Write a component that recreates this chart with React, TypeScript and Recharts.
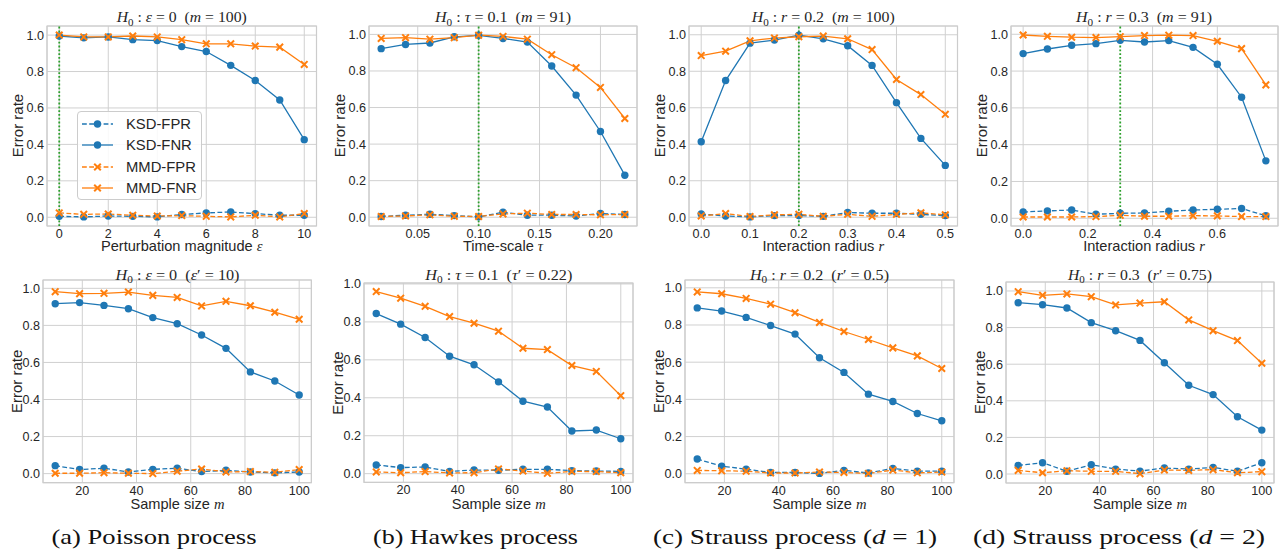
import React from 'react';
import { LineChart, Line, XAxis, YAxis, CartesianGrid, ReferenceLine, ReferenceArea, Legend } from 'recharts';

const BLUE = '#1f77b4';
const ORANGE = '#ff7f0e';
const GREEN = '#2ca02c';
const SANS = "'Liberation Sans', Arial, Helvetica, sans-serif";
const SERIF = "'Liberation Serif', 'Times New Roman', serif";
const TEXT = '#262626';

// ---------- x values ----------
const epsValues = [0, 1, 2, 3, 4, 5, 6, 7, 8, 9, 10];
const tauValues = [0.02, 0.04, 0.06, 0.08, 0.1, 0.12, 0.14, 0.16, 0.18, 0.2, 0.22];
const r1Values = [0, 0.05, 0.1, 0.15, 0.2, 0.25, 0.3, 0.35, 0.4, 0.45, 0.5];
const r2Values = [0, 0.075, 0.15, 0.225, 0.3, 0.375, 0.45, 0.525, 0.6, 0.675, 0.75];
const mValues = [10, 19, 28, 37, 46, 55, 64, 73, 82, 91, 100];

// ---------- tick labels ----------
const errTicks = [0, 0.2, 0.4, 0.6, 0.8, 1.0];
const epsTicks = [0, 2, 4, 6, 8, 10];
const tauTicks = [0.05, 0.1, 0.15, 0.2];
const r1Ticks = [0, 0.1, 0.2, 0.3, 0.4, 0.5];
const r2Ticks = [0, 0.2, 0.4, 0.6];
const mTicks = [20, 40, 60, 80, 100];

// ---------- (a) Poisson, varying epsilon ----------
const poissonEpsKsdFpr = [0.005, 0.002, 0.007, 0.005, 0.002, 0.015, 0.024, 0.029, 0.02, 0.011, 0.011];
const poissonEpsKsdFnr = [0.995, 0.985, 0.99, 0.975, 0.97, 0.937, 0.91, 0.834, 0.751, 0.644, 0.426];
const poissonEpsMmdFpr = [0.024, 0.016, 0.018, 0.011, 0.007, 0.009, 0.005, 0.002, 0.011, 0.002, 0.02];
const poissonEpsMmdFnr = [1.0, 0.99, 0.99, 0.995, 0.99, 0.975, 0.952, 0.952, 0.94, 0.934, 0.839];

// ---------- (b) Hawkes, varying tau ----------
const hawkesTauKsdFpr = [0.004, 0.011, 0.016, 0.009, 0.002, 0.027, 0.011, 0.011, 0.007, 0.02, 0.015];
const hawkesTauKsdFnr = [0.922, 0.945, 0.953, 0.987, 0.995, 0.978, 0.958, 0.827, 0.668, 0.469, 0.23];
const hawkesTauMmdFpr = [0.004, 0.007, 0.013, 0.005, 0.004, 0.018, 0.022, 0.015, 0.015, 0.013, 0.015];
const hawkesTauMmdFnr = [0.978, 0.982, 0.974, 0.982, 0.996, 0.989, 0.974, 0.889, 0.818, 0.71, 0.54];

// ---------- (c) Strauss d=1, varying r ----------
const strauss1RKsdFpr = [0.018, 0.007, 0.002, 0.009, 0.009, 0.005, 0.026, 0.022, 0.022, 0.016, 0.009];
const strauss1RKsdFnr = [0.414, 0.749, 0.954, 0.971, 0.998, 0.978, 0.94, 0.832, 0.628, 0.432, 0.284];
const strauss1RMmdFpr = [0.007, 0.02, 0.004, 0.013, 0.016, 0.005, 0.016, 0.005, 0.016, 0.024, 0.013];
const strauss1RMmdFnr = [0.886, 0.91, 0.967, 0.982, 0.989, 0.993, 0.978, 0.919, 0.755, 0.672, 0.564];

// ---------- (d) Strauss d=2, varying r ----------
const strauss2RKsdFpr = [0.034, 0.04, 0.045, 0.022, 0.027, 0.029, 0.038, 0.045, 0.049, 0.053, 0.014];
const strauss2RKsdFnr = [0.895, 0.92, 0.94, 0.949, 0.967, 0.958, 0.966, 0.929, 0.837, 0.658, 0.312];
const strauss2RMmdFpr = [0.007, 0.007, 0.007, 0.009, 0.016, 0.011, 0.011, 0.014, 0.013, 0.009, 0.009];
const strauss2RMmdFnr = [0.996, 0.989, 0.984, 0.982, 0.987, 0.993, 0.995, 0.993, 0.962, 0.922, 0.725];

// ---------- sample size panels ----------
const poissonMKsdFpr = [0.043, 0.022, 0.029, 0.009, 0.023, 0.029, 0.011, 0.018, 0.009, 0.004, 0.009];
const poissonMKsdFnr = [0.917, 0.923, 0.908, 0.89, 0.842, 0.809, 0.748, 0.676, 0.549, 0.5, 0.424];
const poissonMMmdFpr = [0.002, 0.002, 0.005, 0.002, 0.0, 0.013, 0.025, 0.009, 0.011, 0.007, 0.022];
const poissonMMmdFnr = [0.982, 0.971, 0.973, 0.98, 0.962, 0.951, 0.905, 0.93, 0.906, 0.871, 0.833];

const hawkesMKsdFpr = [0.046, 0.032, 0.035, 0.012, 0.019, 0.018, 0.023, 0.023, 0.016, 0.014, 0.012];
const hawkesMKsdFnr = [0.844, 0.788, 0.718, 0.619, 0.574, 0.484, 0.382, 0.351, 0.225, 0.23, 0.184];
const hawkesMMmdFpr = [0.009, 0.005, 0.011, 0.004, 0.005, 0.025, 0.014, 0.002, 0.012, 0.011, 0.005];
const hawkesMMmdFnr = [0.96, 0.925, 0.882, 0.828, 0.793, 0.751, 0.661, 0.654, 0.57, 0.539, 0.411];

const strauss1MKsdFpr = [0.079, 0.041, 0.025, 0.007, 0.007, 0.002, 0.018, 0.004, 0.029, 0.014, 0.014];
const strauss1MKsdFnr = [0.892, 0.875, 0.841, 0.797, 0.751, 0.624, 0.545, 0.428, 0.389, 0.324, 0.285];
const strauss1MMmdFpr = [0.018, 0.016, 0.014, 0.004, 0.004, 0.009, 0.007, 0.002, 0.02, 0.005, 0.009];
const strauss1MMmdFnr = [0.978, 0.968, 0.943, 0.912, 0.866, 0.814, 0.765, 0.722, 0.677, 0.634, 0.566];

const strauss2MKsdFpr = [0.047, 0.062, 0.015, 0.051, 0.027, 0.016, 0.033, 0.027, 0.036, 0.015, 0.062];
const strauss2MKsdFnr = [0.936, 0.925, 0.907, 0.827, 0.783, 0.73, 0.608, 0.485, 0.434, 0.313, 0.24];
const strauss2MMmdFpr = [0.02, 0.007, 0.018, 0.015, 0.015, 0.002, 0.022, 0.02, 0.024, 0.007, 0.013];
const strauss2MMmdFnr = [0.996, 0.976, 0.984, 0.969, 0.924, 0.934, 0.941, 0.842, 0.783, 0.729, 0.605];

const SERIES = [
  { key: 'ksdFpr', name: 'KSD-FPR', color: BLUE, dashed: true, marker: 'o' },
  { key: 'ksdFnr', name: 'KSD-FNR', color: BLUE, dashed: false, marker: 'o' },
  { key: 'mmdFpr', name: 'MMD-FPR', color: ORANGE, dashed: true, marker: 'x' },
  { key: 'mmdFnr', name: 'MMD-FNR', color: ORANGE, dashed: false, marker: 'x' },
];

function rows(xs: number[], a: number[], b: number[], c: number[], d: number[]) {
  return xs.map((x, i) => ({ x, ksdFpr: a[i], ksdFnr: b[i], mmdFpr: c[i], mmdFnr: d[i] }));
}

type Seg = [string, string?];

const PANELS: any[] = [
  {
    box: { left: 47, right: 316.5, top: 25.5, bottom: 225.5 }, xd: [-0.5, 10.5], yd: [-0.048, 1.05],
    ticks: epsTicks, fmt: (v: number) => String(v), h0: 0, legend: true,
    data: rows(epsValues, poissonEpsKsdFpr, poissonEpsKsdFnr, poissonEpsMmdFpr, poissonEpsMmdFnr),
    title: [['H', 'i'], ['0', 's'], [' : '], ['ε', 'i'], [' = 0  ('], ['m', 'i'], [' = 100)']] as Seg[], titleW: 130,
    xlabel: [['Perturbation magnitude '], ['ε', 'i']] as Seg[],
  },
  {
    box: { left: 369, right: 637, top: 25.5, bottom: 225.5 }, xd: [0.01, 0.23], yd: [-0.048, 1.046],
    ticks: tauTicks, fmt: (v: number) => v.toFixed(2), h0: 0.1,
    data: rows(tauValues, hawkesTauKsdFpr, hawkesTauKsdFnr, hawkesTauMmdFpr, hawkesTauMmdFnr),
    title: [['H', 'i'], ['0', 's'], [' : '], ['τ', 'i'], [' = 0.1  ('], ['m', 'i'], [' = 91)']] as Seg[], titleW: 136,
    xlabel: [['Time-scale '], ['τ', 'i']] as Seg[],
  },
  {
    box: { left: 689, right: 957.5, top: 25.5, bottom: 225.5 }, xd: [-0.025, 0.525], yd: [-0.048, 1.048],
    ticks: r1Ticks, fmt: (v: number) => v.toFixed(1), h0: 0.2,
    data: rows(r1Values, strauss1RKsdFpr, strauss1RKsdFnr, strauss1RMmdFpr, strauss1RMmdFnr),
    title: [['H', 'i'], ['0', 's'], [' : '], ['r', 'i'], [' = 0.2  ('], ['m', 'i'], [' = 100)']] as Seg[], titleW: 143,
    xlabel: [['Interaction radius '], ['r', 'i']] as Seg[],
  },
  {
    box: { left: 1010.5, right: 1277.5, top: 25.5, bottom: 225.5 }, xd: [-0.0375, 0.7875], yd: [-0.042, 1.045],
    ticks: r2Ticks, fmt: (v: number) => v.toFixed(1), h0: 0.3,
    data: rows(r2Values, strauss2RKsdFpr, strauss2RKsdFnr, strauss2RMmdFpr, strauss2RMmdFnr),
    title: [['H', 'i'], ['0', 's'], [' : '], ['r', 'i'], [' = 0.3  ('], ['m', 'i'], [' = 91)']] as Seg[], titleW: 136,
    xlabel: [['Interaction radius '], ['r', 'i']] as Seg[],
  },
  {
    box: { left: 43.3, right: 311.7, top: 280, bottom: 482.7 }, xd: [5.5, 104.5], yd: [-0.049, 1.045],
    ticks: mTicks, fmt: (v: number) => String(v),
    data: rows(mValues, poissonMKsdFpr, poissonMKsdFnr, poissonMMmdFpr, poissonMMmdFnr),
    title: [['H', 'i'], ['0', 's'], [' : '], ['ε', 'i'], [' = 0  ('], ['ε', 'i'], ['′ = 10)']] as Seg[], titleW: 124,
    xlabel: [['Sample size '], ['m', 'i']] as Seg[],
    caption: [['(a) Poisson process']] as Seg[], capX: 154, capW: 205,
  },
  {
    box: { left: 364.3, right: 633.3, top: 283.3, bottom: 482.7 }, xd: [5.5, 104.5], yd: [-0.046, 1.005],
    ticks: mTicks, fmt: (v: number) => String(v),
    data: rows(mValues, hawkesMKsdFpr, hawkesMKsdFnr, hawkesMMmdFpr, hawkesMMmdFnr),
    title: [['H', 'i'], ['0', 's'], [' : '], ['τ', 'i'], [' = 0.1  ('], ['τ', 'i'], ['′ = 0.22)']] as Seg[], titleW: 147,
    xlabel: [['Sample size '], ['m', 'i']] as Seg[],
    caption: [['(b) Hawkes process']] as Seg[], capX: 475.5, capW: 205,
  },
  {
    box: { left: 685, right: 954, top: 280, bottom: 482.7 }, xd: [5.5, 104.5], yd: [-0.048, 1.042],
    ticks: mTicks, fmt: (v: number) => String(v),
    data: rows(mValues, strauss1MKsdFpr, strauss1MKsdFnr, strauss1MMmdFpr, strauss1MMmdFnr),
    title: [['H', 'i'], ['0', 's'], [' : '], ['r', 'i'], [' = 0.2  ('], ['r', 'i'], ['′ = 0.5)']] as Seg[], titleW: 139,
    xlabel: [['Sample size '], ['m', 'i']] as Seg[],
    caption: [['(c) Strauss process ('], ['d', 'i'], [' = 1)']] as Seg[], capX: 795, capW: 284,
  },
  {
    box: { left: 1006, right: 1274, top: 281.7, bottom: 482.7 }, xd: [5.5, 104.5], yd: [-0.049, 1.049],
    ticks: mTicks, fmt: (v: number) => String(v),
    data: rows(mValues, strauss2MKsdFpr, strauss2MKsdFnr, strauss2MMmdFpr, strauss2MMmdFnr),
    title: [['H', 'i'], ['0', 's'], [' : '], ['r', 'i'], [' = 0.3  ('], ['r', 'i'], ['′ = 0.75)']] as Seg[], titleW: 144,
    xlabel: [['Sample size '], ['m', 'i']] as Seg[],
    caption: [['(d) Strauss process ('], ['d', 'i'], [' = 2)']] as Seg[], capX: 1119, capW: 292,
  },
];

function makeDot(color: string, marker: string) {
  return (props: any) => {
    const { cx, cy, index } = props;
    if (cx == null || cy == null) return <g key={`n${index}`} />;
    if (marker === 'o') {
      return <circle key={`c${index}`} cx={cx} cy={cy} r={3.7} fill={color} stroke="none" />;
    }
    const s = 3.3;
    return (
      <path
        key={`x${index}`}
        d={`M${cx - s},${cy - s}L${cx + s},${cy + s}M${cx - s},${cy + s}L${cx + s},${cy - s}`}
        stroke={color}
        strokeWidth={2}
        fill="none"
      />
    );
  };
}

function renderSegs(segs: Seg[], size: number) {
  let shift = 0;
  return segs.map(([t, st], k) => {
    const p: any = {};
    if (st === 's') {
      p.dy = size * 0.22;
      p.fontSize = size * 0.7;
      p.fontStyle = 'normal';
      shift = size * 0.22;
    } else if (shift) {
      p.dy = -shift;
      shift = 0;
    }
    if (st === 'i') {
      p.fontStyle = 'italic';
      p.fontFamily = SERIF;
    }
    return (
      <tspan key={k} {...p}>
        {t}
      </tspan>
    );
  });
}

function LegendBox() {
  return (
    <div
      style={{
        width: 125,
        height: 89,
        boxSizing: 'border-box',
        border: '1px solid #cccccc',
        borderRadius: 4,
        background: 'rgba(255,255,255,0.85)',
        paddingTop: 1,
      }}
    >
      {SERIES.map((s) => (
        <div key={s.key} style={{ display: 'flex', alignItems: 'center', height: 21.5 }}>
          <svg width={31} height={12} style={{ marginLeft: 4, overflow: 'visible' }}>
            <line
              x1={0}
              y1={6}
              x2={31}
              y2={6}
              stroke={s.color}
              strokeWidth={1.3}
              strokeDasharray={s.dashed ? '4.8 2.4' : undefined}
            />
            {makeDot(s.color, s.marker)({ cx: 15.5, cy: 6, index: 0 })}
          </svg>
          <span style={{ marginLeft: 13, fontSize: 14.8, fontFamily: SANS, color: TEXT, lineHeight: '14px' }}>
            {s.name}
          </span>
        </div>
      ))}
    </div>
  );
}

function Panel({ cfg }: { cfg: any }) {
  const yw = 40;
  const xh = 20;
  const mt = 10;
  const mr = 4;
  const L0 = cfg.box.left - yw;
  const T0 = cfg.box.top - mt;
  const W = cfg.box.right - L0 + mr;
  const H = cfg.box.bottom - T0 + xh;
  const tickStyle = { fontSize: 12.6, fill: TEXT, fontFamily: SANS };
  return (
    <div style={{ position: 'absolute', left: L0, top: T0, width: W, height: H }}>
      <LineChart width={W} height={H} data={cfg.data} margin={{ top: mt, right: mr, bottom: 0, left: 0 }}>
        <CartesianGrid stroke="#d0d0d0" strokeWidth={1} />
        <XAxis
          type="number"
          dataKey="x"
          domain={cfg.xd}
          ticks={cfg.ticks}
          tickFormatter={cfg.fmt}
          allowDataOverflow
          interval={0}
          tickLine={false}
          axisLine={false}
          tickSize={0}
          tickMargin={3}
          height={xh}
          tick={tickStyle}
        />
        <YAxis
          type="number"
          domain={cfg.yd}
          ticks={errTicks}
          tickFormatter={(v: number) => v.toFixed(1)}
          allowDataOverflow
          interval={0}
          tickLine={false}
          axisLine={false}
          tickSize={0}
          tickMargin={3}
          width={yw}
          tick={tickStyle}
        />
        <ReferenceArea
          x1={cfg.xd[0]}
          x2={cfg.xd[1]}
          y1={cfg.yd[0]}
          y2={cfg.yd[1]}
          fill="none"
          fillOpacity={0}
          stroke="#cccccc"
          strokeWidth={1.2}
          ifOverflow="visible"
        />
        {cfg.h0 !== undefined && (
          <ReferenceLine x={cfg.h0} stroke={GREEN} strokeWidth={1.8} strokeDasharray="1.8 2" ifOverflow="visible" />
        )}
        {SERIES.map((s) => (
          <Line
            key={s.key}
            type="linear"
            dataKey={s.key}
            name={s.name}
            stroke={s.color}
            strokeWidth={1.3}
            strokeDasharray={s.dashed ? '4.8 2.4' : undefined}
            dot={makeDot(s.color, s.marker)}
            activeDot={false}
            isAnimationActive={false}
          />
        ))}
        {cfg.legend && (
          <Legend
            layout="vertical"
            align="center"
            verticalAlign="middle"
            content={() => <LegendBox />}
            wrapperStyle={{ left: 77 - L0, top: 111 - T0, width: 125, height: 89 }}
          />
        )}
      </LineChart>
    </div>
  );
}

export default function App() {
  return (
    <div style={{ position: 'absolute', left: 0, top: 0, width: 1281, height: 551, background: '#fff', fontFamily: SANS }}>
      {PANELS.map((p, i) => (
        <Panel key={i} cfg={p} />
      ))}
      <svg width={1281} height={551} style={{ position: 'absolute', left: 0, top: 0, pointerEvents: 'none' }}>
        {PANELS.map((p, i) => {
          const cx = (p.box.left + p.box.right) / 2;
          const cy = (p.box.top + p.box.bottom) / 2;
          const top = i < 4;
          const titleY = top ? 22.3 : 279.5;
          const xlabY = top ? 251 : 508.5;
          const ylabX = p.box.left - (top ? 29 : 26.5) + 5.3;
          return (
            <g key={i}>
              <text
                x={cx}
                y={titleY}
                textAnchor="middle"
                fontFamily={SERIF}
                fontSize={15.5}
                fill={TEXT}
                style={{ whiteSpace: 'pre' }}
                textLength={p.titleW}
                lengthAdjust="spacingAndGlyphs"
              >
                {renderSegs(p.title, 15.5)}
              </text>
              <text x={cx} y={xlabY} textAnchor="middle" fontFamily={SANS} fontSize={14.6} fill={TEXT} style={{ whiteSpace: 'pre' }}>
                {renderSegs(p.xlabel, 14.6)}
              </text>
              <text
                x={ylabX}
                y={cy}
                textAnchor="middle"
                fontFamily={SANS}
                fontSize={15}
                fill={TEXT}
                transform={`rotate(-90 ${ylabX} ${cy})`}
              >
                Error rate
              </text>
              {p.caption && (
                <text
                  x={p.capX}
                  y={544}
                  textAnchor="middle"
                  fontFamily={SERIF}
                  fontSize={21}
                  fill="#111"
                  style={{ whiteSpace: 'pre' }}
                  textLength={p.capW}
                  lengthAdjust="spacingAndGlyphs"
                >
                  {renderSegs(p.caption, 21)}
                </text>
              )}
            </g>
          );
        })}
      </svg>
    </div>
  );
}
